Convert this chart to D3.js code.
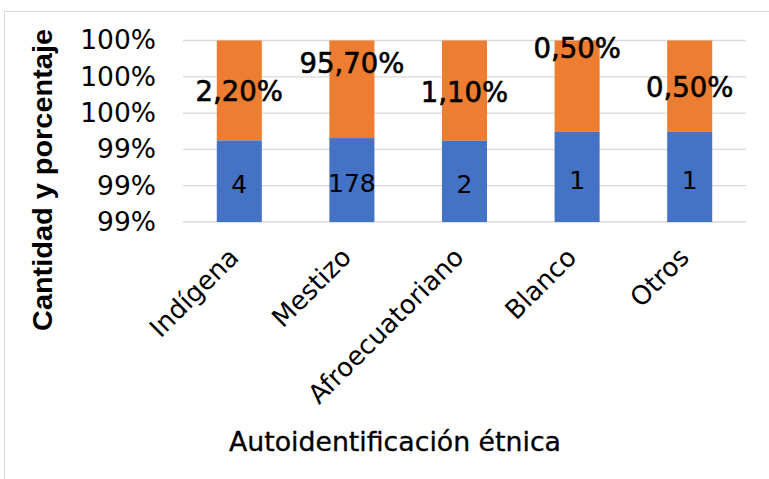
<!DOCTYPE html>
<html>
<head>
<meta charset="utf-8">
<script src="https://cdn.jsdelivr.net/npm/d3@7"></script>
<style>
  body { margin: 0; background: #fff; }
  text { font-family: "DejaVu Sans", Verdana, sans-serif; }
</style>
</head>
<body>
<svg id="chart"></svg>
<script>
// categories and values
const categories = ["Indígena", "Mestizo", "Afroecuatoriano", "Blanco", "Otros"];
const counts = [4, 178, 2, 1, 1];
const percentLabels = ["2,20%", "95,70%", "1,10%", "0,50%", "0,50%"];
// share of the blue (count) segment in the 100% stack
const countShare = [0.99312, 0.99328, 0.99309, 0.99371, 0.99371];
const yTicks = [0.9875, 0.99, 0.9925, 0.995, 0.9975, 1.0];

// label nudges (px) of the orange labels, like Excel's hand-moved labels
const pctLabelDy = [3, -24, 3, -36, 3];

const width = 769, height = 479;
const margin = {top: 40, right: 23, bottom: 257, left: 183};

let svg = d3.select('#chart')
    .attr('width', width)
    .attr('height', height);

// chart frame
svg.append('rect')
    .attr('x', 4.5).attr('y', 11.5)
    .attr('width', width + 10).attr('height', height + 10)
    .attr('fill', 'none')
    .attr('stroke', '#d9d9d9');

const x = d3.scaleBand()
    .domain(categories)
    .range([margin.left, width - margin.right])
    .paddingInner(0.6)
    .paddingOuter(0.3);

const y = d3.scaleLinear()
    .domain([0.9875, 1.0])
    .range([222, 40.5]);

// gridlines
svg.append('g')
    .selectAll('line')
    .data(yTicks)
    .join('line')
    .attr('x1', margin.left).attr('x2', width - margin.right)
    .attr('y1', d => y(d)).attr('y2', d => y(d))
    .attr('stroke', '#d9d9d9')
    .attr('stroke-width', 1.3);

// y axis labels
const yAxis = d3.axisLeft(y)
    .tickValues(yTicks)
    .tickSize(0)
    .tickPadding(0)
    .tickFormat(d => Math.round(d * 100) + '%');

svg.append('g')
    .attr('transform', `translate(156,0)`)
    .call(yAxis)
    .call(g => g.select('.domain').remove())
    .selectAll('text')
    .style('font-size', '26.5px')
    .style('font-family', '"DejaVu Sans", Verdana, sans-serif')
    .attr('fill', '#000');

// stacked bars
const rows = categories.map((c, i) => ({cat: c, share: countShare[i], count: counts[i], pct: percentLabels[i], dy: pctLabelDy[i]}));

svg.append('g')
    .selectAll('rect')
    .data(rows)
    .join('rect')
    .attr('x', d => x(d.cat))
    .attr('width', x.bandwidth())
    .attr('y', d => y(1.0))
    .attr('height', d => y(d.share) - y(1.0))
    .attr('fill', '#ed7d31');

svg.append('g')
    .selectAll('rect')
    .data(rows)
    .join('rect')
    .attr('x', d => x(d.cat))
    .attr('width', x.bandwidth())
    .attr('y', d => y(d.share))
    .attr('height', d => y(0.9875) - y(d.share))
    .attr('fill', '#4472c4');

// count labels
svg.append('g')
    .selectAll('text')
    .data(rows)
    .join('text')
    .attr('x', d => x(d.cat) + x.bandwidth() / 2)
    .attr('y', d => (y(d.share) + y(0.9875)) / 2 + 5)
    .attr('text-anchor', 'middle')
    .attr('dominant-baseline', 'middle')
    .style('font-size', '25px')
    .attr('fill', '#000')
    .text(d => d.count);

// percent labels
svg.append('g')
    .selectAll('text')
    .data(rows)
    .join('text')
    .attr('x', d => x(d.cat) + x.bandwidth() / 2)
    .attr('y', d => (y(1.0) + y(d.share)) / 2 + d.dy)
    .attr('text-anchor', 'middle')
    .attr('dominant-baseline', 'middle')
    .style('font-size', '27.5px')
    .attr('fill', '#000')
    .attr('stroke', '#000')
    .attr('stroke-width', 0.6)
    .text(d => d.pct);

// category labels, rotated
svg.append('g')
    .selectAll('text')
    .data(categories)
    .join('text')
    .attr('transform', d => `translate(${x(d) + x.bandwidth() / 2 - 12},246) rotate(-45)`)
    .attr('text-anchor', 'end')
    .attr('dy', '0.7em')
    .style('font-size', '26px')
    .attr('fill', '#000')
    .text(d => d);

// axis titles
svg.append('text')
    .attr('x', 395)
    .attr('y', 451)
    .attr('text-anchor', 'middle')
    .attr('textLength', 332)
    .attr('lengthAdjust', 'spacingAndGlyphs')
    .style('font-family', '"Liberation Sans Narrow", "DejaVu Sans Condensed", sans-serif')
    .style('font-size', '27px')
    .attr('fill', '#000')
    .attr('stroke', '#000')
    .attr('stroke-width', 0.3)
    .text('Autoidentificación étnica');

svg.append('text')
    .attr('transform', 'translate(52,180) rotate(-90)')
    .attr('text-anchor', 'middle')
    .attr('textLength', 302)
    .attr('lengthAdjust', 'spacingAndGlyphs')
    .style('font-family', '"Liberation Sans", Arial, sans-serif')
    .style('font-weight', 'bold')
    .style('font-size', '28px')
    .attr('fill', '#000')
    .text('Cantidad y porcentaje');
</script>
</body>
</html>
